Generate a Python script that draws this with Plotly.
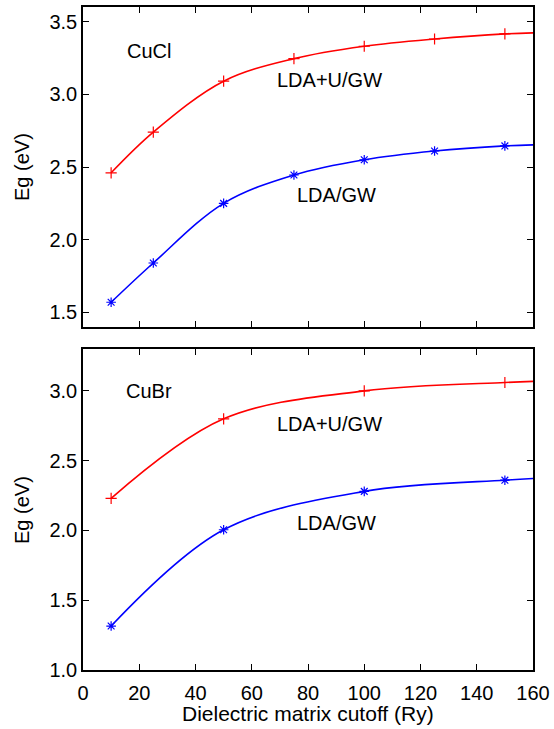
import plotly.graph_objects as go
from plotly.subplots import make_subplots

# ---- data ----
cucl_x = [10, 25, 50, 75, 100, 125, 150]
cucl_ldau = [2.46, 2.74, 3.09, 3.245, 3.33, 3.38, 3.415]
cucl_lda = [1.57, 1.84, 2.25, 2.445, 2.55, 2.61, 2.645]

cubr_x = [10, 50, 100, 150]
cubr_ldau = [2.23, 2.80, 3.00, 3.06]
cubr_lda = [1.315, 2.005, 2.28, 2.36]

# curve end values at the right edge (x = 160)
end_x = 160
cucl_ldau_end = 3.422
cucl_lda_end = 2.652
cubr_ldau_end = 3.068
cubr_lda_end = 2.372

x_ticks = [0, 20, 40, 60, 80, 100, 120, 140, 160]
y_ticks_top = [1.5, 2.0, 2.5, 3.0, 3.5]
y_ticks_bottom = [1.0, 1.5, 2.0, 2.5, 3.0]

FONT = "Liberation Sans, Arial, Helvetica, sans-serif"
FS = 20
RED = "#ff0000"
BLUE = "#0000ff"

W, H = 554, 729
ML, MR, MT, MB = 83, 21, 7, 59

fig = make_subplots(rows=2, cols=1, shared_xaxes=False, vertical_spacing=0.0)


def add_series(xs, ys, yend, color, symbol, row):
    fig.add_trace(go.Scatter(
        x=xs + [end_x], y=ys + [yend], mode="lines",
        line=dict(color=color, width=1.6, shape="spline", smoothing=1.0),
        showlegend=False, hoverinfo="skip"), row=row, col=1)
    fig.add_trace(go.Scatter(
        x=xs, y=ys, mode="markers",
        marker=dict(symbol=symbol, size=8, color=color,
                    line=dict(color=color, width=1.2)),
        showlegend=False), row=row, col=1)


add_series(cucl_x, cucl_ldau, cucl_ldau_end, RED, "cross-thin", 1)
add_series(cucl_x, cucl_lda, cucl_lda_end, BLUE, "asterisk", 1)
add_series(cubr_x, cubr_ldau, cubr_ldau_end, RED, "cross-thin", 2)
add_series(cubr_x, cubr_lda, cubr_lda_end, BLUE, "asterisk", 2)

axis_common = dict(showline=True, linecolor="black", linewidth=1.5, mirror="ticks",
                   ticks="inside", ticklen=6, tickwidth=1.2, tickcolor="black",
                   showgrid=False, zeroline=False, automargin=False,
                   tickfont=dict(family=FONT, size=FS, color="black"))

fig.update_xaxes(range=[0, 160], tickvals=x_ticks, ticklabelstandoff=4, **axis_common)
fig.update_xaxes(showticklabels=False, row=1, col=1)

plot_h = H - MT - MB
top_dom = [(H - MB - 327) / plot_h, 1.0]
bot_dom = [0.0, (H - MB - 349) / plot_h]

fig.update_yaxes(**axis_common)
fig.update_yaxes(range=[1.4, 3.6], tickvals=y_ticks_top,
                 ticktext=[f"{v:.1f}" for v in y_ticks_top],
                 domain=top_dom, row=1, col=1)
fig.update_yaxes(range=[1.0, 3.3], tickvals=y_ticks_bottom,
                 ticktext=[f"{v:.1f}" for v in y_ticks_bottom],
                 domain=bot_dom, row=2, col=1)

ann_font = dict(family=FONT, size=FS, color="black")
labels = [
    ("CuCl", 23.5, 3.295, "x", "y"),
    ("LDA+U/GW", 87.5, 3.10, "x", "y"),
    ("LDA/GW", 90.3, 2.31, "x", "y"),
    ("CuBr", 23.5, 3.0, "x2", "y2"),
    ("LDA+U/GW", 87.5, 2.76, "x2", "y2"),
    ("LDA/GW", 90.3, 2.055, "x2", "y2"),
]
for text, ax, ay, xr, yr in labels:
    fig.add_annotation(text=text, x=ax, y=ay, xref=xr, yref=yr, showarrow=False,
                       font=ann_font, xanchor="center", yanchor="middle")


def px_x(p):
    return (p - ML) / (W - ML - MR)


def px_y(p):
    return (H - MB - p) / plot_h


# axis titles
fig.add_annotation(text="Dielectric matrix cutoff (Ry)", xref="paper", yref="paper",
                   x=px_x(308), y=px_y(713), showarrow=False,
                   font=dict(family=FONT, size=21, color="black"),
                   xanchor="center", yanchor="middle")
for yc in (167, 510):
    fig.add_annotation(text="Eg (eV)", xref="paper", yref="paper",
                       x=px_x(22), y=px_y(yc), showarrow=False, font=ann_font,
                       textangle=-90, xanchor="center", yanchor="middle")

fig.update_layout(
    width=W, height=H,
    margin=dict(l=ML, r=MR, t=MT, b=MB),
    plot_bgcolor="white", paper_bgcolor="white",
    font=dict(family=FONT, size=FS, color="black"),
)

fig.write_html("out.html",
               config={"displayModeBar": False},
               post_script="document.body.style.margin='0';"
                           "document.body.style.overflow='hidden';")
